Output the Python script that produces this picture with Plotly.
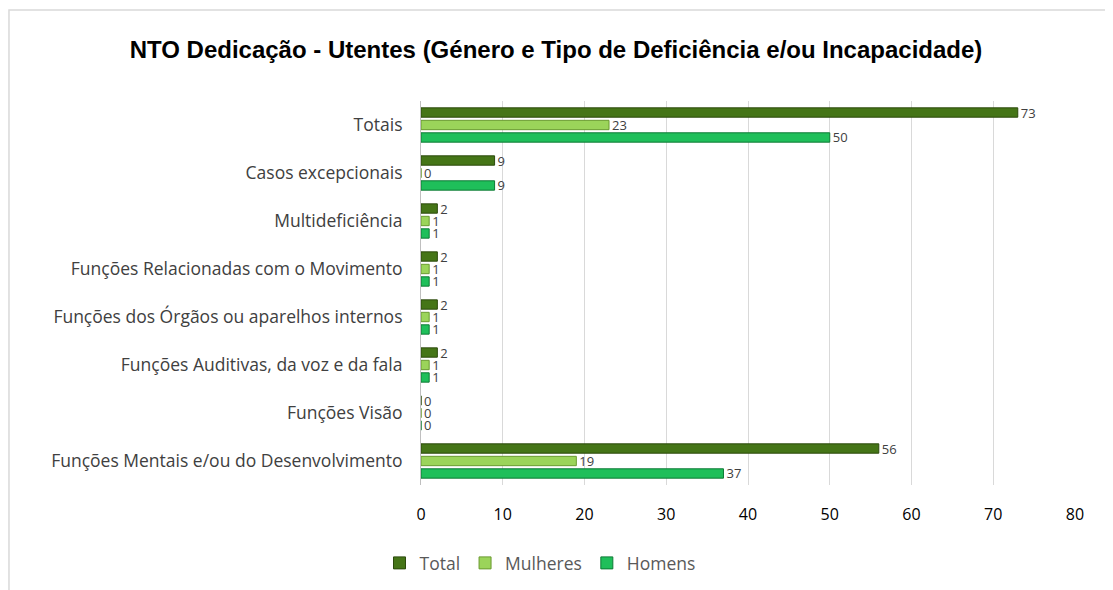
import plotly.graph_objects as go

categories = [
    "Funções Mentais e/ou do Desenvolvimento",
    "Funções Visão",
    "Funções Auditivas, da voz e da fala",
    "Funções dos Órgãos ou aparelhos internos",
    "Funções Relacionadas com o Movimento",
    "Multideficiência",
    "Casos excepcionais",
    "Totais",
]
total = [56, 0, 2, 2, 2, 2, 9, 73]
mulheres = [19, 0, 1, 1, 1, 1, 0, 23]
homens = [37, 0, 1, 1, 1, 1, 9, 50]
x_ticks = [0, 10, 20, 30, 40, 50, 60, 70, 80]

FONT = "Open Sans, Liberation Sans, sans-serif"

fig = go.Figure()
series = [
    ("Homens", homens, "#1FBF5A", "#0E7A35"),
    ("Mulheres", mulheres, "#9BD45A", "#6A9A30"),
    ("Total", total, "#457517", "#2C4A0C"),
]
for name, vals, col, lc in series:
    fig.add_trace(go.Bar(
        y=categories, x=vals, name=name, orientation="h",
        marker=dict(color=col, line=dict(color=lc, width=1)),
        text=[str(v) for v in vals], textposition="outside", constraintext="none",
        textfont=dict(family=FONT, size=13, color="#404040"),
        cliponaxis=False,
    ))

W, H = 1105, 582
fig.update_layout(
    width=W, height=H,
    margin=dict(l=413, r=38, t=93, b=105),
    paper_bgcolor="white", plot_bgcolor="white",
    barmode="group", bargap=0.22, bargroupgap=0.25,
    title=dict(
        text="<b>NTO Dedicação - Utentes (Género e Tipo de Deficiência e/ou Incapacidade)</b>",
        x=(556 - 8) / W, xref="container", xanchor="center", y=1 - 42 / H, yanchor="middle",
        font=dict(family="Liberation Sans, sans-serif", size=24, color="#000000"),
    ),
    xaxis=dict(
        range=[0, 80], tickvals=x_ticks, showgrid=True, gridcolor="#d9d9d9", gridwidth=1,
        zeroline=False, showline=False, ticks="",
        tickfont=dict(family=FONT, size=16, color="#000000"),
        ticklabelstandoff=18,
    ),
    yaxis=dict(
        showline=True, linecolor="#bfbfbf", linewidth=1, ticks="",
        tickfont=dict(family=FONT, size=17.5, color="#404040"),
        ticklabelstandoff=14,
    ),
    legend=dict(
        orientation="h", traceorder="reversed",
        xref="container", yref="container", x=(540 - 8) / W, xanchor="center",
        y=1 - 555 / H, yanchor="middle",
        font=dict(family=FONT, size=17.5, color="#595959"),
        itemwidth=30,
    ),
    showlegend=True,
    shapes=[dict(type="rect", xref="paper", yref="paper", x0=-0.63, x1=1.2, y0=-0.5, y1=1.237,
                 line=dict(color="#d9d9d9", width=1.5), fillcolor="rgba(0,0,0,0)", layer="below")],
)

fig.write_html("out.html")
